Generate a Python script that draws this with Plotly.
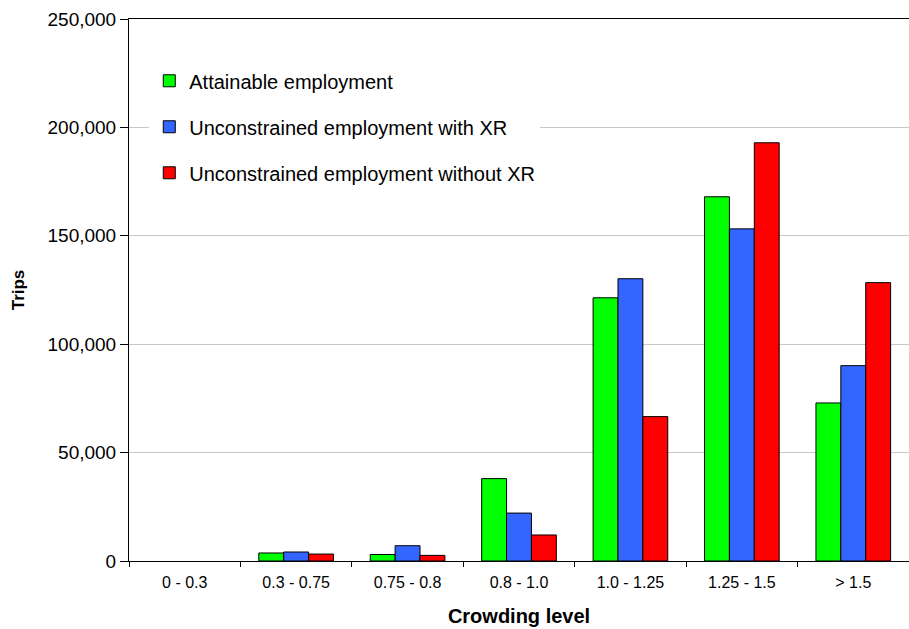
import plotly.graph_objects as go

categories = ["0 - 0.3", "0.3 - 0.75", "0.75 - 0.8", "0.8 - 1.0", "1.0 - 1.25", "1.25 - 1.5", "> 1.5"]
attainable = [0, 3700, 3000, 38000, 121400, 168000, 72900]
with_xr = [0, 4150, 7050, 22100, 130200, 153200, 90100]
without_xr = [0, 3200, 2600, 12000, 66600, 192900, 128400]

series = [
    ("Attainable employment", attainable, "#00FF00"),
    ("Unconstrained employment with XR", with_xr, "#3366FF"),
    ("Unconstrained employment without XR", without_xr, "#FF0000"),
]

fig = go.Figure()
for i, (name, vals, color) in enumerate(series):
    # empty categories are left blank instead of drawing a flat outline
    shown = [v if v > 0 else None for v in vals]
    fig.add_trace(go.Bar(
        x=categories, y=shown, name=name, legendgroup=f"g{i}",
        marker=dict(color=color, line=dict(color="#000000", width=1)),
    ))

font = "Liberation Sans, Arial, sans-serif"
fig.update_layout(
    width=909, height=629,
    margin=dict(l=129, r=0, t=19, b=68),
    paper_bgcolor="white", plot_bgcolor="white",
    barmode="group", bargap=0.33, bargroupgap=0,
    font=dict(family=font, size=16, color="#000000"),
    legend=dict(
        x=0.026, y=0.922, xanchor="left", yanchor="top",
        bgcolor="white", borderwidth=0,
        font=dict(family=font, size=20, color="#000000"),
        tracegroupgap=17, traceorder="grouped",
    ),
    xaxis=dict(
        showline=True, linecolor="#000000", linewidth=1, mirror=True,
        ticks="outside", tickson="boundaries", ticklen=5, tickcolor="#000000",
        showgrid=False,
        tickfont=dict(family=font, size=16),
        ticklabelstandoff=7,
        title=dict(text="<b>Crowding level</b>", font=dict(family=font, size=20), standoff=18),
    ),
    yaxis=dict(
        range=[0, 250000], tickvals=[0, 50000, 100000, 150000, 200000, 250000],
        tickformat=",d",
        showline=True, linecolor="#000000", linewidth=1, mirror=True,
        ticks="outside", ticklen=8, tickcolor="#000000",
        showgrid=True, gridcolor="#C8C8C8", gridwidth=1,
        zeroline=False,
        tickfont=dict(family=font, size=19),
        title=dict(text="<b>Trips</b>", font=dict(family=font, size=17), standoff=18),
    ),
)

fig.write_html("out.html")
